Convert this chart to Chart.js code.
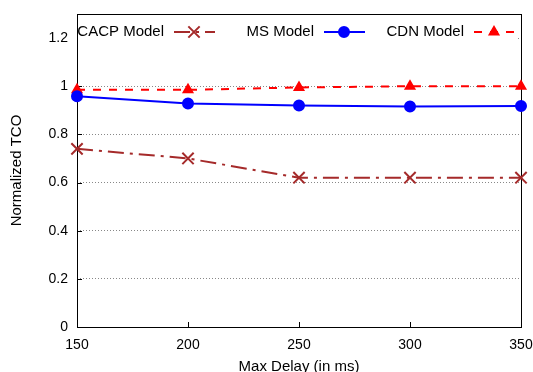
<!DOCTYPE html>
<html>
<head>
<meta charset="utf-8">
<script src="https://cdn.jsdelivr.net/npm/chart.js@4"></script>
<style>
  body { margin: 0; background: #fff; }
  canvas { display: block; }
</style>
</head>
<body>
<canvas id="myChart" width="533" height="372"></canvas>
<script>
// data
const delays = [150, 200, 250, 300, 350];
const cacpModel = [0.74, 0.70, 0.62, 0.62, 0.62];
const msModel = [0.958, 0.928, 0.92, 0.916, 0.918];
const cdnModel = [0.985, 0.985, 0.995, 1.0, 1.0];
const yTicks = [0, 0.2, 0.4, 0.6, 0.8, 1, 1.2];
const xTicks = [150, 200, 250, 300, 350];

const FONT = 'Liberation Sans, Arial, sans-serif';

function pairs(vals) {
    return delays.map((d, i) => ({ x: d, y: vals[i] }));
}

const series = [
    { label: 'CACP Model', data: cacpModel, color: '#a52a2a', dash: [16, 6, 3, 6], style: 'crossRot', r: 8 },
    { label: 'MS Model', data: msModel, color: '#0000ff', dash: [], style: 'circle', r: 5 },
    { label: 'CDN Model', data: cdnModel, color: '#ff0000', dash: [8, 8], style: 'triangle', r: 5 }
];

// frame, inward ticks and the key drawn like the original
const framePlugin = {
    id: 'frame',
    beforeDatasetsDraw(chart) {
        const { ctx, chartArea: a, scales } = chart;
        ctx.save();
        ctx.strokeStyle = '#000';
        ctx.lineWidth = 1;
        ctx.setLineDash([]);
        ctx.strokeRect(a.left + 0.5, a.top + 0.5, a.right - a.left, a.bottom - a.top);
        ctx.beginPath();
        xTicks.forEach(v => {
            const x = Math.round(scales.x.getPixelForValue(v)) + 0.5;
            ctx.moveTo(x, a.bottom);
            ctx.lineTo(x, a.bottom - 5);
        });
        yTicks.forEach(v => {
            const y = Math.round(scales.y.getPixelForValue(v)) + 0.5;
            ctx.moveTo(a.left, y);
            ctx.lineTo(a.left + 5, y);
        });
        ctx.stroke();
        ctx.restore();
    },
    afterDatasetsDraw(chart) {
        const { ctx, chartArea: a } = chart;
        ctx.save();
        ctx.fillStyle = '#fff';
        ctx.fillRect(a.left + 1, 23, 440, 19);
        const textEnds = [164, 314, 464];
        const ly = 32;
        ctx.font = '15px ' + FONT;
        ctx.textAlign = 'right';
        ctx.textBaseline = 'middle';
        series.forEach((s, i) => {
            const tx = textEnds[i];
            ctx.fillStyle = '#000';
            ctx.fillText(s.label, tx, ly);
            ctx.strokeStyle = s.color;
            ctx.lineWidth = 2;
            ctx.setLineDash(s.dash);
            ctx.beginPath();
            ctx.moveTo(tx + 10, ly);
            ctx.lineTo(tx + 51, ly);
            ctx.stroke();
            ctx.setLineDash([]);
            ctx.fillStyle = s.color;
            ctx.strokeStyle = s.color;
            ctx.lineWidth = 2;
            Chart.helpers.drawPoint(ctx, {
                pointStyle: s.style, radius: s.r, rotation: 0, borderWidth: 2
            }, tx + 30, ly);
        });
        ctx.restore();
    }
};

new Chart(document.getElementById('myChart'), {
    type: 'line',
    data: {
        datasets: series.map(s => ({
            label: s.label,
            data: pairs(s.data),
            borderColor: s.color,
            backgroundColor: s.color,
            borderWidth: 2,
            borderDash: s.dash,
            pointStyle: s.style,
            pointRadius: s.r,
            pointBorderWidth: 2,
            fill: false,
            tension: 0,
            clip: false
        }))
    },
    options: {
        responsive: false,
        animation: false,
        layout: { padding: { top: 14, right: 12, left: 0, bottom: 0 } },
        plugins: {
            legend: { display: false },
            tooltip: { enabled: false }
        },
        scales: {
            x: {
                type: 'linear',
                min: 150,
                max: 350,
                afterBuildTicks: scale => { scale.ticks = xTicks.map(v => ({ value: v })); },
                afterFit: scale => { scale.height = 45; scale.paddingLeft = 0; scale.paddingRight = 0; },
                grid: { display: false, drawTicks: false },
                border: { display: false },
                ticks: { color: '#000', padding: 10, font: { family: FONT, size: 14 }, maxRotation: 0 },
                title: { display: true, text: 'Max Delay (in ms)', color: '#000', padding: { top: 0, bottom: -4 }, font: { family: FONT, size: 15 } }
            },
            y: {
                min: 0,
                max: 1.3,
                afterBuildTicks: scale => { scale.ticks = yTicks.map(v => ({ value: v })); },
                afterFit: scale => { scale.width = 77; scale.paddingTop = 0; scale.paddingBottom = 0; },
                grid: {
                    drawTicks: false,
                    color: ctx => ctx.tick && ctx.tick.value === 0 ? 'rgba(0,0,0,0)' : '#888',
                    lineWidth: 1
                },
                border: { display: false, dash: [1, 2] },
                ticks: { color: '#000', padding: 9, font: { family: FONT, size: 14 }, callback: v => String(v) },
                title: { display: true, text: 'Normalized TCO', color: '#000', padding: { top: 8 }, font: { family: FONT, size: 15 } }
            }
        }
    },
    plugins: [framePlugin]
});
</script>
</body>
</html>
